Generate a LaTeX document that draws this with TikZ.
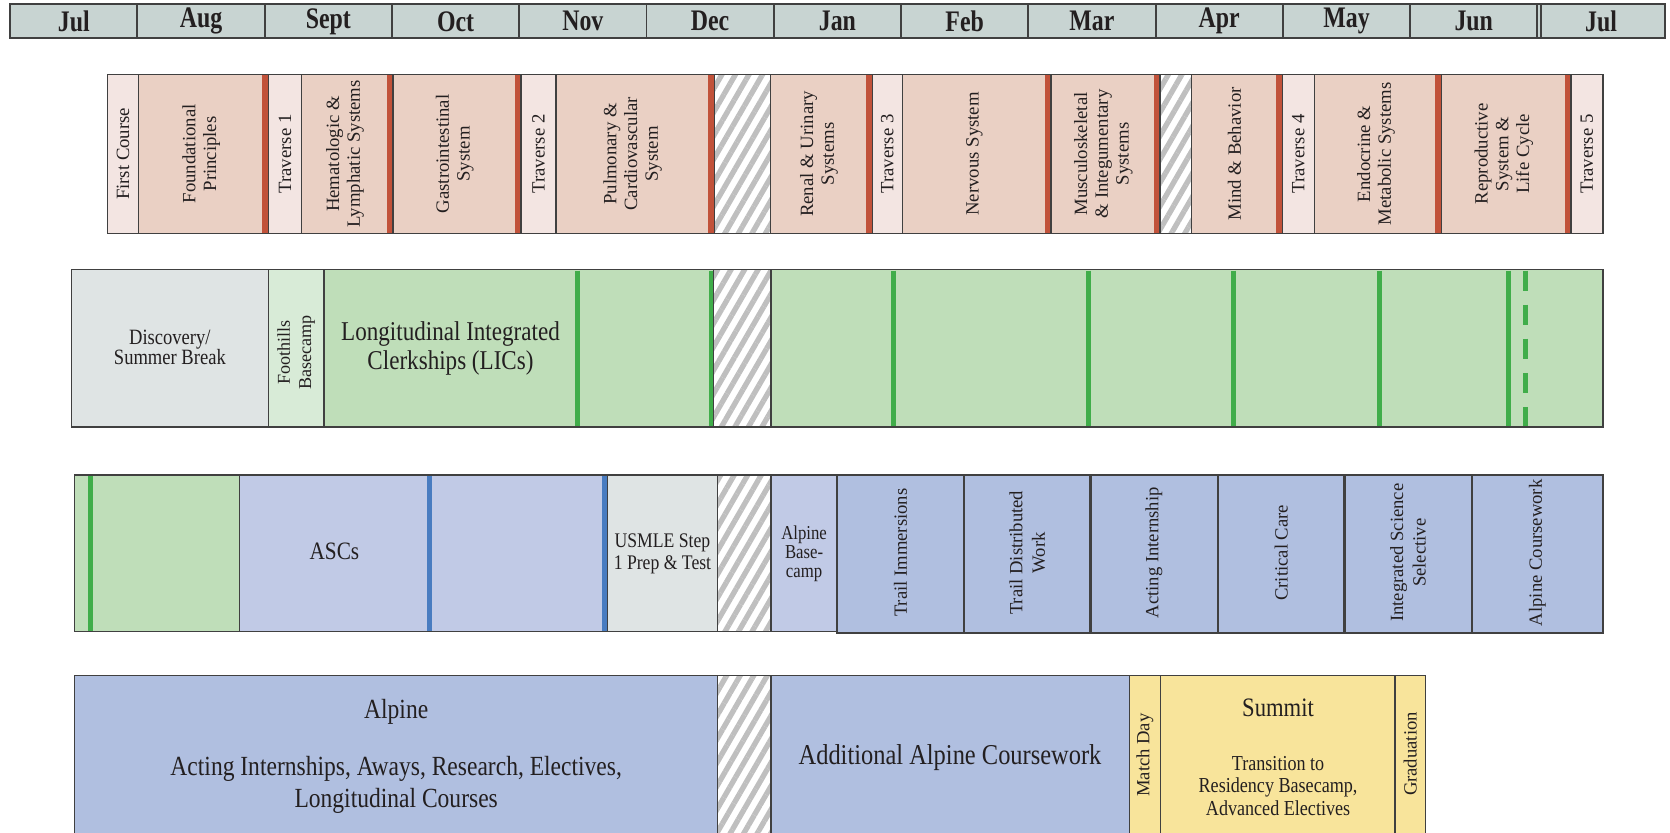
\documentclass[tikz,border=0pt]{standalone}
\usepackage{fontspec}
\setmainfont{Liberation Serif}
\newfontfamily\condfont[FakeStretch=0.85]{Liberation Serif}
\newfontfamily\monthfont[FakeStretch=0.8]{Liberation Serif}
\usetikzlibrary{patterns.meta}
\definecolor{edge}{RGB}{64,64,64}
\definecolor{ink}{RGB}{35,31,32}
\definecolor{hdrfill}{RGB}{200,212,210}
\definecolor{crsfill}{RGB}{234,208,196}
\definecolor{travfill}{RGB}{243,229,226}
\definecolor{barred}{RGB}{193,82,58}
\definecolor{brkfill}{RGB}{223,228,228}
\definecolor{fhfill}{RGB}{216,235,215}
\definecolor{licfill}{RGB}{191,222,185}
\definecolor{bargreen}{RGB}{64,173,74}
\definecolor{ascfill}{RGB}{193,202,230}
\definecolor{barblue}{RGB}{73,124,192}
\definecolor{alpfill}{RGB}{176,191,224}
\definecolor{sumfill}{RGB}{248,228,155}
\definecolor{hatchgray}{RGB}{191,191,191}
\tikzset{
	box/.style={draw=edge, line width=1.4pt},
	month/.style={box, fill=hdrfill, line width=1.8pt},
	course/.style={box, fill=crsfill},
	trav/.style={box, fill=travfill},
	brk/.style={box, fill=brkfill},
	fhill/.style={box, fill=fhfill},
	lic/.style={box, fill=licfill},
	asc/.style={box, fill=ascfill},
	alp/.style={box, fill=alpfill},
	trail/.style={box, fill=alpfill, line width=2.2pt},
	summ/.style={box, fill=sumfill},
	hatch/.style={box, pattern={Lines[angle=60, distance=11pt, line width=5pt]}, pattern color=hatchgray},
	crsbar/.style={fill=barred},
	licbar/.style={draw=bargreen, line width=4.5pt},
	ascbar/.style={draw=barblue, line width=4.5pt},
	monthtext/.style={text=ink, font=\monthfont\bfseries\fontsize{28}{28}\selectfont},
	vtext/.style 2 args={rotate=90, align=center, text=ink, font=\fontsize{#1}{#2}\selectfont},
	ctext/.style 2 args={align=center, text=ink, font=\condfont\fontsize{#1}{#2}\selectfont},
}

\begin{document}
\begin{tikzpicture}[x=1pt, y=-1pt]
	\clip (0,0) rectangle (1568,782);

	\foreach \m [count=\i from 0] in {Jul,Aug,Sept,Oct,Nov,Dec,Jan,Feb,Mar,Apr,May,Jun,Jul}
		\draw[month] (9.5+119.5*\i,4) rectangle (129+119.5*\i,36)
			node[monthtext] (m\i) at (69.25+119.5*\i,20) {\m};
	\draw[edge, line width=1.8pt] (1446.5,4) -- (1446.5,36);

	\draw[trav] (101,70) rectangle (130,219);
	\draw[course] (130,70) rectangle (252,219);
	\draw[trav] (252,70) rectangle (283,219);
	\draw[course] (283,70) rectangle (369,219);
	\draw[course] (369,70) rectangle (489,219);
	\draw[trav] (489,70) rectangle (522,219);
	\draw[course] (522,70) rectangle (671,219);
	\draw[hatch] (671,70) rectangle (723.5,219);
	\draw[course] (723.5,70) rectangle (819,219);
	\draw[trav] (819,70) rectangle (847.5,219);
	\draw[course] (847.5,70) rectangle (987,219);
	\draw[course] (987,70) rectangle (1089,219);
	\draw[hatch] (1089,70) rectangle (1118.5,219);
	\draw[course] (1118.5,70) rectangle (1204,219);
	\draw[trav] (1204,70) rectangle (1234,219);
	\draw[course] (1234,70) rectangle (1353.5,219);
	\draw[course] (1353.5,70) rectangle (1475,219);
	\draw[trav] (1475,70) rectangle (1505,219);
	\foreach \x in {252,369,489,671,819,987,1089,1204,1353.5,1475}
		\fill[crsbar] (\x-5.8,70.7) rectangle (\x-0.7,218.3);

	\node[vtext={17.6}{19.5}] (fc) at (115.5,144.5) {First Course};
	\node[vtext={17.6}{19.5}] (fp) at (189,144.5) {Foundational\\Principles};
	\node[vtext={17.6}{19.5}] (t1) at (267.5,144.5) {Traverse 1};
	\node[vtext={17.6}{19.5}] (hem) at (324,144.5) {Hematologic \&\\Lymphatic Systems};
	\node[vtext={17.6}{19.5}] (gi) at (427,144.5) {Gastrointestinal\\System};
	\node[vtext={17.6}{19.5}] (t2) at (505.5,144.5) {Traverse 2};
	\node[vtext={17.6}{19.5}] (pc) at (594,144.5) {Pulmonary \&\\Cardiovascular\\System};
	\node[vtext={17.6}{19.5}] (ren) at (769,144.5) {Renal \& Urinary\\Systems};
	\node[vtext={17.6}{19.5}] (t3) at (833,144.5) {Traverse 3};
	\node[vtext={17.6}{19.5}] (nerv) at (915,144.5) {Nervous System};
	\node[vtext={17.6}{19.5}] (msk) at (1036,144.5) {Musculoskeletal\\\& Integumentary\\Systems};
	\node[vtext={17.6}{19.5}] (mind) at (1159,144.5) {Mind \& Behavior};
	\node[vtext={17.6}{19.5}] (t4) at (1219,144.5) {Traverse 4};
	\node[vtext={17.6}{19.5}] (endo) at (1292,144.5) {Endocrine \&\\Metabolic Systems};
	\node[vtext={17.6}{19.5}] (repro) at (1412,144.5) {Reproductive\\System \&\\Life Cycle};
	\node[vtext={17.6}{19.5}] (t5) at (1490,144.5) {Traverse 5};

	\draw[brk] (67,253) rectangle (252,401);
	\draw[fhill] (252,253) rectangle (304,401);
	\draw[lic] (304,253) rectangle (670,401);
	\draw[hatch] (670,253) rectangle (724,401);
	\draw[lic] (724,253) rectangle (1505,401);
	\foreach \x in {542,667.5,839,1022,1158,1295,1416}
		\draw[licbar] (\x,254) -- (\x,400);
	\draw[licbar, dash pattern=on 19pt off 13pt] (1432,254) -- (1432,400);

	\node[ctext={20.5}{19}] (disc) at (159.5,326) {Discovery/\\Summer Break};
	\node[vtext={17}{20}] (fh) at (278,331) {Foothills\\Basecamp};
	\node[ctext={25.5}{27}] (lics) at (423,327) {Longitudinal Integrated\\Clerkships (LICs)};

	\draw[lic] (70,446) rectangle (225,593);
	\draw[asc] (225,446) rectangle (570,593);
	\draw[brk] (570,446) rectangle (673.5,593);
	\draw[hatch] (673.5,446) rectangle (724,593);
	\draw[asc] (724,446) rectangle (786,593);
	\draw[licbar] (85,447) -- (85,592);
	\draw[ascbar] (403,447) -- (403,592);
	\draw[ascbar] (567.5,447) -- (567.5,592);
	\foreach \a/\b in {786/905,905/1024,1024/1143.5,1143.5/1262.5,1262.5/1382,1382/1505}
		\draw[trail] (\a,446) rectangle (\b,594.5);

	\node[ctext={23.5}{25}] (ascs) at (314,518) {ASCs};
	\node[ctext={19.5}{20}] (usmle) at (622,520) {USMLE Step\\1 Prep \& Test};
	\node[ctext={18.5}{17.5}] (abc) at (755,520) {Alpine\\Base-\\camp};
	\node[vtext={17.5}{21}] (ti) at (845.5,519) {Trail Immersions};
	\node[vtext={17.5}{21}] (tdw) at (964.5,519) {Trail Distributed\\Work};
	\node[vtext={17.5}{21}] (ai) at (1083.5,519) {Acting Internship};
	\node[vtext={17.5}{21}] (cc) at (1203,519) {Critical Care};
	\node[vtext={17.5}{21}] (iss) at (1322,519) {Integrated Science\\Selective};
	\node[vtext={17.5}{21}] (ac) at (1443.5,519) {Alpine Coursework};

	\draw[alp] (70,634) rectangle (673.5,800);
	\draw[hatch] (673.5,634) rectangle (724,800);
	\draw[alp] (724,634) rectangle (1060.5,800);
	\draw[summ] (1060.5,634) rectangle (1089.5,800);
	\draw[summ] (1089.5,634) rectangle (1310,800);
	\draw[summ] (1310,634) rectangle (1338.5,800);

	\node[ctext={26}{30}] (alpt) at (372,668) {Alpine};
	\node[ctext={26}{30}] (alpd) at (372,737) {Acting Internships, Aways, Research, Electives,\\Longitudinal Courses};
	\node[ctext={27}{30}] (add) at (892,711) {Additional Alpine Coursework};
	\node[vtext={17.5}{20}] (match) at (1075,709) {Match Day};
	\node[ctext={25}{28}] (summit) at (1200,665) {Summit};
	\node[ctext={20}{21.3}] (trans) at (1200,738) {Transition to\\Residency Basecamp,\\Advanced Electives};
	\node[vtext={17.5}{20}] (grad) at (1324,708) {Graduation};
\end{tikzpicture}
\end{document}
